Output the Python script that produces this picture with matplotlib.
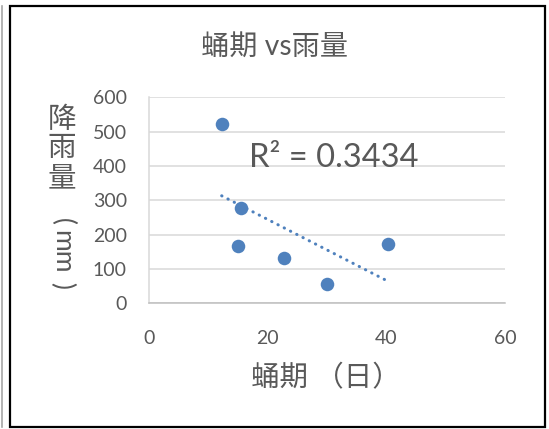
import numpy as np
import matplotlib.pyplot as plt
from matplotlib.patches import Rectangle
from matplotlib.lines import Line2D

plt.rcParams['font.family'] = ['Lato', 'Noto Sans CJK TC', 'DejaVu Sans']

# data
pupa_days = [12.25, 15.46, 14.95, 22.8, 30.05, 40.33]
rainfall = [522, 277, 166, 132, 56, 172]
x_ticks = [0, 20, 40, 60]
y_ticks = [0, 100, 200, 300, 400, 500, 600]
r2_label = 'R² = 0.3434'

W, H = 549, 429
fig = plt.figure(figsize=(W / 100, H / 100), dpi=100)

def px(x, y):
    return x / W, 1 - y / H

# frame around the chart
x0, y1 = px(10, 6)
x1, y0 = px(545, 427)
fig.patches.append(Rectangle((x0, y0), x1 - x0, y1 - y0, transform=fig.transFigure,
                             fill=False, edgecolor='black', lw=1.6))
gx, _ = px(2, 0)
fig.lines.append(Line2D([gx, gx], [px(0, 427)[1], px(0, 6)[1]], transform=fig.transFigure,
                        color='#a6a6a6', lw=1.2))

ax = fig.add_axes([149 / W, 1 - 303.3 / H, (505 - 149) / W, (303.3 - 97.3) / H])

grey = '#595959'
blue = '#4f81bd'

ax.scatter(pupa_days, rainfall, s=95, color=blue, zorder=3, linewidths=0)

# linear trendline
k, b = np.polyfit(pupa_days, rainfall, 1)
tx = np.array([min(pupa_days), max(pupa_days)])
ax.plot(tx, k * tx + b, color=blue, lw=2.2, linestyle=(0, (0.1, 2.2)),
        dash_capstyle='round', zorder=2)

ax.text(31.2, 424, r2_label, fontsize=23.5, color=grey, ha='center', va='center')

ax.set_xlim(0, 60)
ax.set_ylim(0, 600)
ax.set_xticks(x_ticks)
ax.set_yticks(y_ticks)
ax.tick_params(length=0, labelsize=14, labelcolor=grey)
ax.tick_params(axis='x', pad=19)
ax.tick_params(axis='y', pad=16)
ax.grid(axis='y', color='#d9d9d9', lw=1.1)
ax.set_axisbelow(True)
for s in ['top', 'right']:
    ax.spines[s].set_visible(False)
ax.spines['left'].set_color('#d9d9d9')
ax.spines['bottom'].set_color('#bfbfbf')
ax.spines['left'].set_linewidth(1.1)
ax.spines['bottom'].set_linewidth(1.1)

fig.text(*px(275, 47), '蛹期 vs雨量', fontsize=20.3, color=grey, ha='center', va='center')
fig.text(*px(326, 378), '蛹期 （日）', fontsize=20.5, color=grey, ha='center', va='center')

# vertical y-axis title: upright CJK, rotated latin
for ch, yy in zip('降雨量', [120, 148, 178]):
    fig.text(*px(62, yy), ch, fontsize=20.5, color=grey, ha='center', va='center')
fig.text(*px(62, 221), '(', fontsize=19, color=grey, ha='center', va='center',
         rotation=-90, family='Lato')
fig.text(*px(62, 252), 'mm', fontsize=19, color=grey, ha='center', va='center',
         rotation=-90, family='Lato')
fig.text(*px(62, 286), ')', fontsize=19, color=grey, ha='center', va='center',
         rotation=-90, family='Lato')

fig.savefig('out.png', dpi=100)
